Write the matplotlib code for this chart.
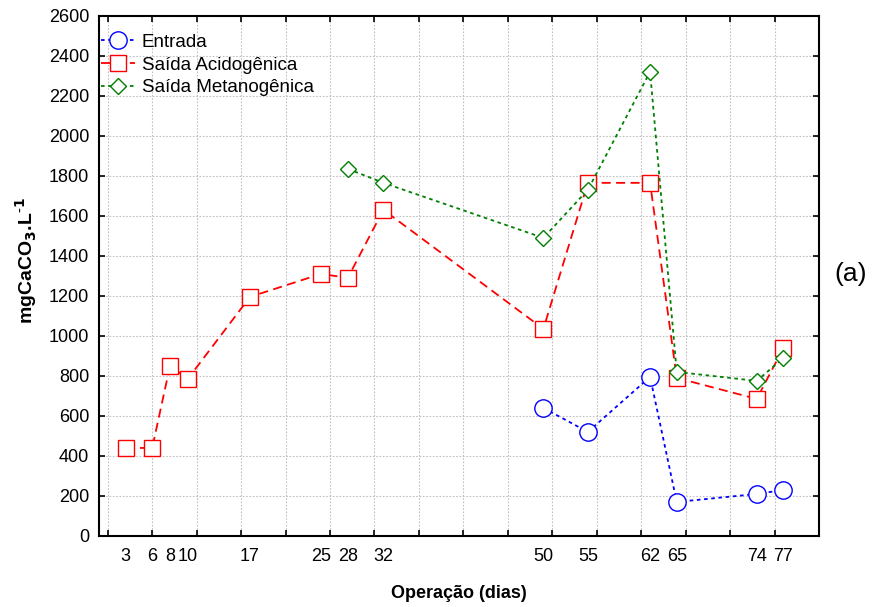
import matplotlib
matplotlib.use('Agg')
import matplotlib.pyplot as plt
import numpy as np

plt.rcParams['font.family'] = ['Liberation Sans', 'DejaVu Sans']

# dias de operação e alcalinidade (mgCaCO3/L)
dias_entrada = [50, 55, 62, 65, 74, 77]
entrada = [640, 520, 795, 170, 210, 230]

dias_acido = [3, 6, 8, 10, 17, 25, 28, 32, 50, 55, 62, 65, 74, 77]
acido = [440, 440, 850, 785, 1195, 1310, 1290, 1630, 1035, 1765, 1765, 790, 685, 940]

dias_metano = [28, 32, 50, 55, 62, 65, 74, 77]
metano = [1835, 1765, 1490, 1730, 2320, 820, 775, 890]

rotulos_x = [3, 6, 8, 10, 17, 25, 28, 32, 50, 55, 62, 65, 74, 77]

fig = plt.figure(figsize=(8.75, 6.07), dpi=100)
ax = fig.add_axes([0.113, 0.117, 0.823, 0.857])

ax.plot(dias_entrada, entrada, color='#0000ff', linestyle=(0, (2, 2)), lw=1.3,
        marker='o', ms=12.5, mfc='white', mec='#0000ff', mew=1.0, label='Entrada')
ax.plot(dias_acido, acido, color='#ff0000', linestyle=(0, (5, 3)), lw=1.3,
        marker='s', ms=11.5, mfc='white', mec='#ff0000', mew=1.0, label='Saída Acidogênica')
ax.plot(dias_metano, metano, color='#008000', linestyle=(0, (2, 2)), lw=1.3,
        marker='D', ms=8, mfc='white', mec='#008000', mew=1.0, label='Saída Metanogênica')

ax.set_xlim(0, 81)
ax.set_ylim(0, 2600)

# grade a cada 5 dias, rótulos nos dias de coleta
ax.xaxis.remove_overlapping_locs = False
ax.set_xticks(np.arange(1, 82, 5))
ax.set_xticklabels([])
ax.set_xticks(rotulos_x, minor=True)
ax.set_xticklabels([str(d) for d in rotulos_x], minor=True,
                   family=['Liberation Sans Narrow', 'Liberation Sans'], fontsize=13)
ax.tick_params(axis='x', which='minor', length=0, pad=9)
ax.set_yticks(np.arange(0, 2601, 200))
ax.tick_params(axis='y', labelsize=13, pad=7)
ax.tick_params(which='major', direction='in', length=4, width=1.2,
               top=True, right=True)

ax.grid(True, which='major', color='#c0c0c0', linestyle=(0, (1.5, 1.5)), lw=0.8)
for s in ax.spines.values():
    s.set_linewidth(1.5)

ax.set_xlabel('Operação (dias)', fontsize=13, fontweight='bold', labelpad=14,
              family=['Liberation Sans Narrow', 'Liberation Sans'])
ax.set_ylabel(r'mgCaCO$_\mathbf{3}$.L$^{\text{-}\mathbf{1}}$', fontsize=14,
              fontweight='bold')
ax.yaxis.set_label_coords(-0.083, 0.53)

leg = ax.legend(loc='upper left', bbox_to_anchor=(-0.012, 0.987), frameon=False,
                fontsize=13.5, handlelength=1.8, handletextpad=0.35,
                labelspacing=0.3, borderaxespad=0.2)

fig.text(0.972, 0.548, '(a)', fontsize=19, ha='center', va='center')

fig.savefig('out.png', dpi=100)
